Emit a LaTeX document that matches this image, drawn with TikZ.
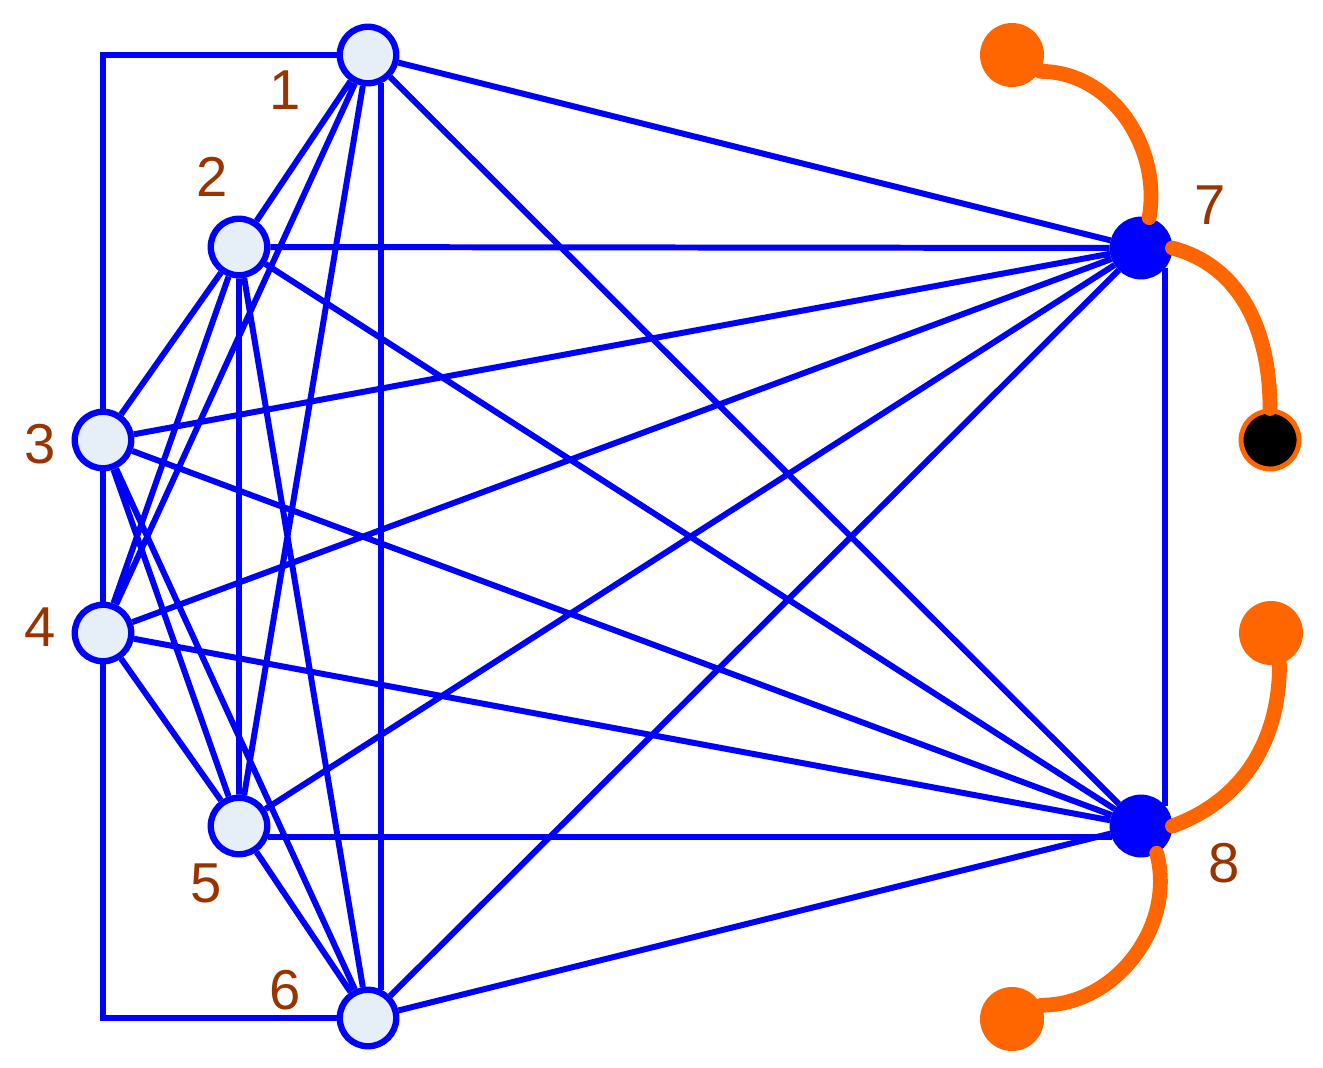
\documentclass[tikz,border=0pt]{standalone}
\usepackage{fontspec}
\setmainfont{Liberation Sans}
\usepackage{xcolor}
\usetikzlibrary{positioning}
\definecolor{edgeblue}{HTML}{0000FF}
\definecolor{vtxfill}{HTML}{E6EEF8}
\definecolor{wireorange}{HTML}{FF6600}
\definecolor{labbrown}{HTML}{993300}
\tikzset{
  vtx/.style={circle,draw=edgeblue,fill=vtxfill,line width=1.8pt,minimum size=0.565cm,inner sep=0pt},
  hub/.style={vtx,fill=edgeblue},
  edge/.style={draw=edgeblue,line width=1.7pt},
  wire/.style={draw=wireorange,line width=4.2pt,line cap=round},
  pin/.style={circle,fill=wireorange,minimum size=0.64cm,inner sep=0pt},
  blackpin/.style={circle,fill=black,draw=wireorange,line width=1.4pt,minimum size=0.58cm,inner sep=0pt},
  lab/.style={text=labbrown,font=\fontsize{16pt}{16pt}\selectfont,inner sep=0pt}
}

\begin{document}
\begin{tikzpicture}
\useasboundingbox (0,0) rectangle (13.23,10.67);
  % vertices
  \node[vtx] (v1) at (3.68,10.12) {};
  \node[vtx] (v2) at (2.39,8.20) {};
  \node[vtx] (v3) at (1.03,6.27) {};
  \node[vtx] (v4) at (1.03,4.34) {};
  \node[vtx] (v5) at (2.39,2.41) {};
  \node[vtx] (v6) at (3.68,0.49) {};
  \node[hub] (v7) at (11.41,8.19) {};
  \node[hub] (v8) at (11.41,2.41) {};
  % edges
  \draw[edge] (v1) -| (v3) -- (v4) |- (v6);
  \draw[edge] (v1.-65) -- (v6.65);
  \draw[edge] (v7.-40) -- (v8.40);
  \draw[edge] (v5.-21.5) -- (v8.201.5);
  \draw[edge] (v1) -- (v2) (v1) -- (v4) (v1) -- (v5) (v1) -- (v7) (v1) -- (v8)
    (v2) -- (v3) (v2) -- (v4) (v2) -- (v5) (v2) -- (v6) (v2) -- (v7) (v2) -- (v8)
    (v3) -- (v5) (v3) -- (v6) (v3) -- (v7) (v3) -- (v8)
    (v4) -- (v5) (v4) -- (v7) (v4) -- (v8)
    (v5) -- (v6) (v5) -- (v7)
    (v6) -- (v7) (v6) -- (v8);
  % labels
  \node[lab] (l1) at ([shift={(-0.83,-0.35)}]v1) {1};
  \node[lab] (l2) at ([shift={(-0.27,0.70)}]v2) {2};
  \node[lab] (l3) at ([shift={(-0.63,-0.04)}]v3) {3};
  \node[lab] (l4) at ([shift={(-0.63,0.06)}]v4) {4};
  \node[lab] (l5) at ([shift={(-0.33,-0.57)}]v5) {5};
  \node[lab] (l6) at ([shift={(-0.83,0.28)}]v6) {6};
  \node[lab] (l7) at ([shift={(0.69,0.43)}]v7) {7};
  \node[lab] (l8) at ([shift={(0.83,-0.37)}]v8) {8};
  % pins
  \node[pin] (p1) at (10.12,10.12) {};
  \node[blackpin] (pb) at (12.70,6.27) {};
  \node[pin] (p2) at (12.71,4.34) {};
  \node[pin] (p3) at (10.12,0.48) {};
  \draw[wire] (p1.-30) to[out=0,in=80] (v7.75);
  \draw[wire] (v7.0) to[out=-15,in=90] (pb.north);
  \draw[wire] (v8.0) to[out=20,in=-90] (p2.-75);
  \draw[wire] (v8.-60) to[out=-75,in=0] (p3.25);
\end{tikzpicture}
\end{document}
